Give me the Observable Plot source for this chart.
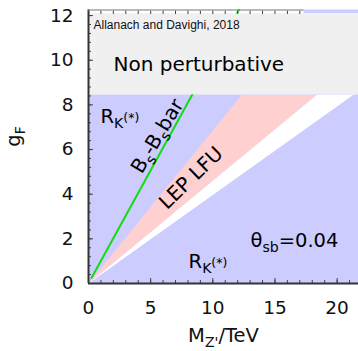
<!DOCTYPE html>
<html><head><meta charset="utf-8">
<script src="https://cdn.jsdelivr.net/npm/d3@7"></script>
<script src="https://cdn.jsdelivr.net/npm/@observablehq/plot@0.6"></script>
<style>html,body{margin:0;padding:0;background:#fff}svg{display:block}</style>
</head><body><div id="chart"></div>
<script>
// ---- data ----
const mDomain = [0, 21.72];          // M_Z'/TeV
const gDomain = [0, 12.25];          // g_F
const xMajor = [0, 5, 10, 15, 20];
const xMinor = [0,1,2,3,4,5,6,7,8,9,10,11,12,13,14,15,16,17,18,19,20,21];
const xTopMinor = [0,1,2,3,4,5,6,7,8,9,10,11,12,13,14,15,16,17];
const yMajor = [0, 2, 4, 6, 8, 10, 12];
const yMinor = [0,0.4,0.8,1.2,1.6,2,2.4,2.8,3.2,3.6,4,4.4,4.8,5.2,5.6,6,6.4,6.8,7.2,7.6,8,8.4,8.8,9.2,9.6,10,10.4,10.8,11.2,11.6,12];
const rkRegion = [{x1: 0, x2: 21.72, y1: 0, y2: 8.45}];
const rkTopStrip = [{x1: 17.34, x2: 21.72, y1: 12.08, y2: 12.25}];
const nonPerturbative = [{x1: 0, x2: 21.72, y1: 8.45, y2: 12.08}];
const lepBand = [{M: 0, g: 0}, {M: 12.33, g: 8.45}, {M: 18.37, g: 8.45}];
const excludedBand = [{M: 0, g: 0}, {M: 18.37, g: 8.45}, {M: 21.32, g: 8.45}];
const bsMixing = [{M: 0.24, g: 0.25}, {M: 12.09, g: 12.25}];
const topFrameEnd = 17.34;

// rich labels: [text, level] level 0 normal, 1 subscript, 2 superscript on subscript
const labelRK = [["R",0],["K",1],["(*)",2]];
const labelTheta = [["θ",0],["sb",1],["=0.04",0]];
const labelBs = [["B",0],["s",1],["-B",0],["s",1],["bar",0]];
const labelLEP = [["LEP LFU",0]];
const labelNP = [["Non perturbative",0]];
const labelCredit = [["Allanach and Davighi, 2018",0]];
const labelY = [["g",0],["F",1]];
const labelX = [["M",0],["Z'",1],["/TeV",0]];

const plain = segs => segs.map(s => s[0]).join("");
const annotations = [
  {M: 2.01, g: 9.79, label: plain(labelNP), size: 20, rotate: 0},
  {M: 0.97, g: 7.49, label: plain(labelRK), size: 19.5, rotate: 0},
  {M: 8.05, g: 0.99, label: plain(labelRK), size: 19.5, rotate: 0},
  {M: 13.03, g: 1.93, label: plain(labelTheta), size: 19.5, rotate: 0}
];
const rotated = [
  {M: 5.55, g: 6.6, label: plain(labelBs), rotate: -59},
  {M: 8.25, g: 4.72, label: plain(labelLEP), rotate: -44}
];
const credit = [{M: 0.40, g: 11.55, label: plain(labelCredit)}];

const rich = new Map([labelRK, labelTheta, labelBs, labelY, labelX].map(s => [plain(s), s]));

const font = "DejaVu Sans";
const chart = Plot.plot({
  width: 358, height: 351,
  marginLeft: 88, marginRight: 0, marginTop: 9.5, marginBottom: 68,
  style: {fontFamily: font, fontSize: "18.5px", color: "#111", background: "#fff"},
  x: {domain: mDomain, label: null},
  y: {domain: gDomain, label: null},
  marks: [
    Plot.rect(rkRegion, {x1: "x1", x2: "x2", y1: "y1", y2: "y2", fill: "#ccccff"}),
    Plot.rect(rkTopStrip, {x1: "x1", x2: "x2", y1: "y1", y2: "y2", fill: "#ccccff"}),
    Plot.line(lepBand, {x: "M", y: "g", fill: "#ffd0d0", stroke: "none"}),
    Plot.line(excludedBand, {x: "M", y: "g", fill: "#ffffff", stroke: "none"}),
    Plot.line(bsMixing, {x: "M", y: "g", stroke: "#11dd11", strokeWidth: 2}),
    Plot.rect(nonPerturbative, {x1: "x1", x2: "x2", y1: "y1", y2: "y2", fill: "#f0f0f0"}),
    // ticks (inward)
    Plot.axisX(xMinor, {anchor: "bottom", tickSize: -3, fill: "none", stroke: "#444"}),
    Plot.axisX(xMajor, {anchor: "bottom", tickSize: -5, fill: "none", stroke: "#444"}),
    Plot.axisX(xTopMinor, {anchor: "top", tickSize: -3.5, fill: "none", stroke: "#444"}),
    Plot.axisY(yMinor, {anchor: "left", tickSize: -3, fill: "none", stroke: "#444"}),
    Plot.axisY(yMajor, {anchor: "left", tickSize: -5, fill: "none", stroke: "#444"}),
    // tick labels
    Plot.axisX(xMajor, {anchor: "bottom", tickSize: 0, tickPadding: 17, fontSize: 18.5, fill: "#111", label: null}),
    Plot.axisY(yMajor, {anchor: "left", tickSize: 0, tickPadding: 15, fontSize: 18.5, fill: "#111", label: null}),
    // frame
    Plot.ruleX([0], {y1: gDomain[0], y2: gDomain[1], stroke: "#333", strokeWidth: 2}),
    Plot.ruleY([0], {x1: mDomain[0], x2: mDomain[1], stroke: "#333", strokeWidth: 2}),
    Plot.ruleY([gDomain[1]], {x1: 0, x2: topFrameEnd, stroke: "#777", strokeWidth: 1}),
    // annotations
    Plot.text(credit, {x: "M", y: "g", text: "label", textAnchor: "start", fontFamily: "Liberation Sans", fontSize: 12, fill: "#111"}),
    Plot.text(annotations, {x: "M", y: "g", text: "label", textAnchor: "start", fontSize: d => d.size, fill: "#000"}),
    Plot.text(rotated, {x: "M", y: "g", text: "label", rotate: "rotate", textAnchor: "middle", fontSize: 20, fill: "#000"}),
    // axis titles
    Plot.text([plain(labelY)], {frameAnchor: "left", dx: -75, rotate: -90, text: d => d, fontSize: 19.5, fill: "#111"}),
    Plot.text([plain(labelX)], {frameAnchor: "bottom", dy: 58, text: d => d, fontSize: 19.5, fill: "#111"})
  ]
});
document.getElementById("chart").appendChild(chart);

// subscripts / superscripts as tspans
const lv = {size: [1, 0.72, 0.64], off: [0, 0.26, -0.05]};
d3.select(chart).selectAll("text").each(function () {
  const segs = rich.get(this.textContent);
  if (!segs) return;
  const base = parseFloat(getComputedStyle(this).fontSize);
  const sel = d3.select(this);
  sel.text("");
  let cur = 0;
  for (const [t, l] of segs) {
    const off = lv.off[l] * base;
    sel.append("tspan").attr("dy", (off - cur).toFixed(2)).attr("font-size", (lv.size[l] * base).toFixed(2)).text(t);
    cur = off;
  }
});
</script>
</body></html>
